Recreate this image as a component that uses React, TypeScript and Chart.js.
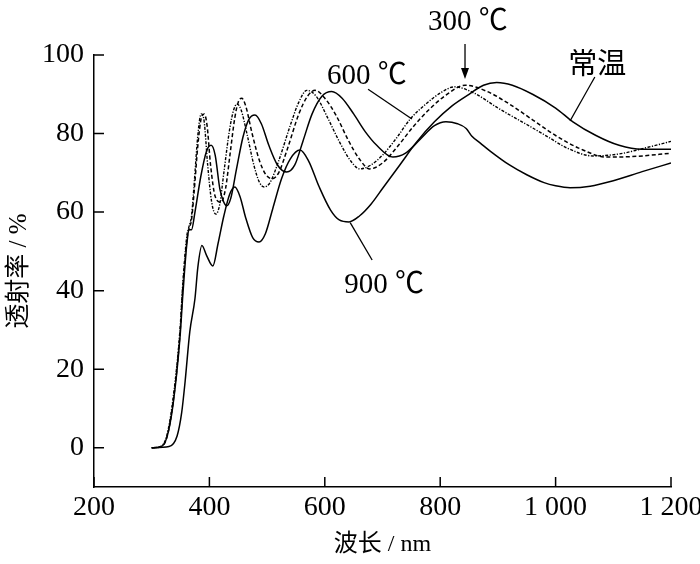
import React, { useEffect, useRef } from 'react';
import { Chart, registerables } from 'chart.js';

Chart.register(...registerables);

// Wavelength (nm) and transmittance (%)
const roomNm = [300, 315, 326, 337, 349, 354, 361, 365, 369, 375, 385, 395, 403, 410, 418, 425, 430, 437, 447, 458, 468, 479, 490, 503, 518, 534, 548, 562, 578, 595, 612, 630, 650, 670, 690, 718, 740, 765, 790, 810, 830, 845, 855, 870, 886, 920, 950, 980, 1000, 1025, 1060, 1100, 1150, 1200];
const roomT = [0, 0.2, 2.5, 11, 28, 39, 52, 55.5, 55.5, 60, 69, 75.5, 77, 74.5, 66, 62.5, 61.6, 63.5, 71, 79, 83.5, 84.7, 82.5, 77, 72, 70.2, 72, 78, 85, 89.5, 90.7, 89, 85, 80.5, 77, 74, 75, 78.5, 82, 83, 82.5, 81.3, 79.3, 77.5, 75.6, 72, 69.5, 67.5, 66.7, 66.2, 66.6, 68, 70.3, 72.5];

const nm300 = [300, 315, 326, 337, 349, 354, 361, 365, 369, 374, 380, 386, 391, 396, 402, 410, 420, 428, 436, 444, 450, 456, 463, 474, 487, 498, 509, 520, 535, 555, 570, 583, 600, 620, 640, 660, 678, 700, 725, 753, 780, 810, 843, 880, 920, 960, 1000, 1040, 1089, 1140, 1200];
const t300 = [0, 0.2, 2.5, 11.5, 29, 41, 53, 56, 58, 66, 77, 84, 85, 82, 72, 64, 62.5, 66, 75, 84, 88, 89, 87, 80, 73, 69.5, 68.5, 70, 76, 85, 89.5, 91, 89, 84.5, 78.5, 73.5, 71, 72.5, 76.5, 81.7, 86, 89.8, 92.3, 90.8, 87.5, 83.5, 79.5, 76.3, 74, 74.2, 75];

const nm600 = [300, 315, 326, 337, 349, 354, 361, 365, 369, 374, 379, 383, 386, 391, 397, 404, 411, 418, 425, 435, 442, 448, 455, 465, 477, 487, 495, 505, 520, 540, 555, 569, 585, 605, 625, 645, 661, 680, 700, 725, 748, 775, 800, 825, 860, 900, 950, 985, 1020, 1065, 1110, 1160, 1200];
const t600 = [0, 0.3, 3, 12.5, 30, 42, 54, 56.5, 59, 68, 78, 83.5, 85, 83, 72, 62.5, 59.5, 62, 70, 81, 86, 87.5, 86, 80, 72, 67.5, 66.4, 67.5, 73, 82, 88, 91, 89.5, 84, 78, 73, 71, 72, 74.5, 79, 83.7, 87.5, 90.3, 91.9, 90.2, 86.5, 82.3, 79.3, 76.3, 74.3, 74.8, 76.5, 78];

const nm900 = [300, 330, 344, 352, 358, 366, 375, 380, 387, 395, 406, 415, 425, 435, 444, 453, 463, 475, 486, 497, 510, 525, 540, 557, 572, 590, 610, 625, 642, 660, 680, 700, 730, 760, 790, 820, 850, 875, 898, 925, 960, 1000, 1030, 1070, 1110, 1150, 1200];
const t900 = [0, 0.3, 3, 9, 17, 29.5, 38, 46, 51.5, 49, 46.3, 52, 59, 64.5, 66.4, 64, 58.5, 53.5, 52.4, 54.5, 61, 68.5, 73.5, 75.8, 73, 66.5, 60.5, 58, 57.5, 59, 62, 66, 72, 78, 83, 87, 90, 92.3, 93, 92.3, 90, 86.5, 83, 79.5, 77, 76, 76];

const xTicks = [200, 400, 600, 800, 1000, 1200];
const xTickLabels = ['200', '400', '600', '800', '1 000', '1 200'];
const yTicks = [0, 20, 40, 60, 80, 100];

// curve labels: text, centre, leader line (all in data units)
const curveLabels = [
  { text: '300 ℃', x: 848, y: 108.4 },
  { text: '600 ℃', x: 673, y: 94.6, line: [675, 91.3, 751, 83.7] },
  { text: '900 ℃', x: 703, y: 41.3, line: [644, 57.3, 682, 47.8] },
  { text: '常温', x: 1072, y: 97.0, line: [1068, 94.4, 1025, 83.2] },
];
const arrow300 = [843, 102.8, 843, 93.9];

const serif = '"Liberation Serif", "Times New Roman", "Noto Sans CJK SC", serif';

const toPoints = (xs: number[], ys: number[]) => xs.map((x, i) => ({ x, y: ys[i] }));

const annotate = {
  id: 'annotate',
  afterDraw(chart: any) {
    const { ctx } = chart;
    const x = chart.scales.x;
    const y = chart.scales.y;
    const px = (v: number) => x.getPixelForValue(v);
    const py = (v: number) => y.getPixelForValue(v);
    ctx.save();
    ctx.strokeStyle = '#000';
    ctx.fillStyle = '#000';

    // inward tick marks
    ctx.lineWidth = 1.5;
    ctx.beginPath();
    xTicks.forEach(v => {
      ctx.moveTo(px(v), y.bottom);
      ctx.lineTo(px(v), y.bottom - 10);
    });
    yTicks.forEach(v => {
      ctx.moveTo(x.left, py(v));
      ctx.lineTo(x.left + 10, py(v));
    });
    ctx.stroke();

    // leader lines and labels
    ctx.lineWidth = 1.3;
    ctx.font = `29px ${serif}`;
    ctx.textAlign = 'center';
    ctx.textBaseline = 'middle';
    curveLabels.forEach(l => {
      if (l.line) {
        ctx.beginPath();
        ctx.moveTo(px(l.line[0]), py(l.line[1]));
        ctx.lineTo(px(l.line[2]), py(l.line[3]));
        ctx.stroke();
      }
      ctx.fillText(l.text, px(l.x), py(l.y));
    });

    // arrow to the 300 ℃ curve
    const ax = px(arrow300[0]);
    const ay1 = py(arrow300[1]);
    const ay2 = py(arrow300[3]);
    ctx.beginPath();
    ctx.moveTo(ax, ay1);
    ctx.lineTo(ax, ay2 - 8);
    ctx.stroke();
    ctx.beginPath();
    ctx.moveTo(ax, ay2);
    ctx.lineTo(ax - 4, ay2 - 11);
    ctx.lineTo(ax + 4, ay2 - 11);
    ctx.closePath();
    ctx.fill();
    ctx.restore();
  },
};

const App: React.FC = () => {
  const canvasRef = useRef<HTMLCanvasElement>(null);

  useEffect(() => {
    if (!canvasRef.current) return;
    const line = (label: string, xs: number[], ys: number[], dash: number[], width = 1.5) => ({
      label,
      data: toPoints(xs, ys),
      borderColor: '#000',
      borderWidth: width,
      borderDash: dash,
      pointRadius: 0,
      fill: false,
      cubicInterpolationMode: 'monotone' as const,
    });

    const chart = new Chart(canvasRef.current, {
      type: 'line',
      data: {
        datasets: [
          line('常温', roomNm, roomT, []),
          line('300 ℃', nm300, t300, [4, 2.5]),
          line('600 ℃', nm600, t600, [3, 1.5, 1.2, 1.5], 1.4),
          line('900 ℃', nm900, t900, []),
        ],
      },
      options: {
        responsive: false,
        animation: false,
        events: [],
        layout: { padding: { top: 55, right: 29, left: 0, bottom: 0 } },
        plugins: { legend: { display: false }, tooltip: { enabled: false } },
        scales: {
          x: {
            type: 'linear',
            min: 200,
            max: 1200,
            afterBuildTicks: (s: any) => { s.ticks = xTicks.map(v => ({ value: v })); },
            afterFit: (s: any) => { s.height = 77; s.paddingLeft = 0; s.paddingRight = 0; },
            ticks: {
              color: '#000',
              font: { family: serif, size: 28 },
              padding: 4,
              maxRotation: 0,
              autoSkip: false,
              callback: (_v: any, i: number) => xTickLabels[i],
            },
            grid: { display: false, drawTicks: false },
            border: { display: true, color: '#000', width: 1.5 },
            title: {
              display: true,
              text: '波长 / nm',
              color: '#000',
              font: { family: serif, size: 24 },
              padding: { top: 0, bottom: 5 },
            },
          },
          y: {
            type: 'linear',
            min: -10,
            max: 100,
            afterBuildTicks: (s: any) => { s.ticks = yTicks.map(v => ({ value: v })); },
            afterFit: (s: any) => { s.width = 94; },
            ticks: {
              color: '#000',
              font: { family: serif, size: 28 },
              padding: 10,
              autoSkip: false,
            },
            grid: { display: false, drawTicks: false },
            border: { display: true, color: '#000', width: 1.5 },
            title: {
              display: true,
              text: '透射率 / %',
              color: '#000',
              font: { family: serif, size: 25 },
              padding: { top: 4, bottom: 0 },
            },
          },
        },
      },
      plugins: [annotate],
    });

    return () => chart.destroy();
  }, []);

  return (
    <div style={{ position: 'absolute', left: 0, top: 0, width: 700, height: 564, background: '#fff' }}>
      <canvas ref={canvasRef} width={700} height={564} />
    </div>
  );
};

export default App;
